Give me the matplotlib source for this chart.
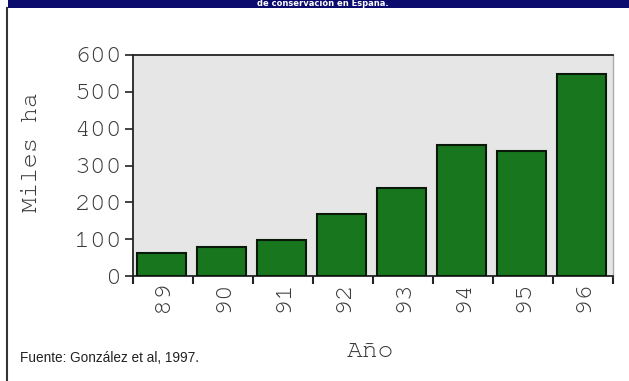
import matplotlib
matplotlib.use("Agg")
import numpy as np
from matplotlib import pyplot as plt
from matplotlib.patches import Rectangle

# datos
anios = ["89", "90", "91", "92", "93", "94", "95", "96"]
miles_ha = [62, 80, 97, 168, 240, 355, 340, 548]
yticks = [0, 100, 200, 300, 400, 500, 600]

mono = ["FreeMono", "DejaVu Sans Mono"]
gris = "#3a3a3a"

fig = plt.figure(figsize=(6.29, 3.81), dpi=100)
fig.patch.set_facecolor("white")

# banda azul del titulo (cortada arriba)
fig.add_artist(Rectangle((8/629, 1 - 8/381), 1, 8/381, transform=fig.transFigure,
                         facecolor="#0b0b6e", edgecolor="none"))
fig.text(323/629, 1 - 6.5/381, "de conservación en España.", color="white", fontsize=6,
         fontweight="bold", ha="center", va="baseline")
# linea vertical del marco
fig.add_artist(plt.Line2D([7/629, 7/629], [0, 1 - 8/381], transform=fig.transFigure,
                          color="#333333", lw=1.5))

ax = fig.add_axes([133/629, 105/381, 480/629, 221/381])
ax.set_facecolor("#e6e6e6")

x = np.arange(len(anios))
ax.bar(x - 0.03, miles_ha, width=0.82, color="#18771e", edgecolor="#0a1a0a", linewidth=1.5, zorder=3)

ax.set_xlim(-0.5, len(anios) - 0.5)
ax.set_ylim(0, 600)
ax.set_yticks(yticks)
ax.set_yticklabels([str(v) for v in yticks], family=mono, fontsize=19, color=gris)

# marcas en los limites de cada categoria, etiquetas en el centro
ax.set_xticks(np.arange(len(anios) + 1) - 0.5)
ax.set_xticklabels([])
ax.set_xticks(x, minor=True)
ax.set_xticklabels(anios, minor=True, rotation=90, family=mono, fontsize=19, color=gris)
ax.tick_params(axis="x", which="minor", length=0, pad=3)
ax.tick_params(axis="x", which="major", length=6, width=1.5, color="#222222")
ax.tick_params(axis="y", length=6, width=1.2, color="#222222", pad=2)

for s in ["left", "bottom", "top"]:
    ax.spines[s].set_color("#222222")
    ax.spines[s].set_linewidth(1.3)
ax.spines["right"].set_color("#aaaaaa")
ax.spines["right"].set_linewidth(1.0)

ax.set_ylabel("Miles ha", family=mono, fontsize=18, color=gris)
ax.yaxis.set_label_coords(-0.19, 0.56)
ax.set_xlabel("Año", family=mono, fontsize=19, color=gris)
ax.xaxis.set_label_coords(0.494, -0.30)

fig.text(20/629, 1 - 358/381, "Fuente: González et al, 1997.", fontsize=9.8,
         fontfamily="Liberation Sans", color="#222222", va="center")

fig.savefig("out.png", dpi=100)
